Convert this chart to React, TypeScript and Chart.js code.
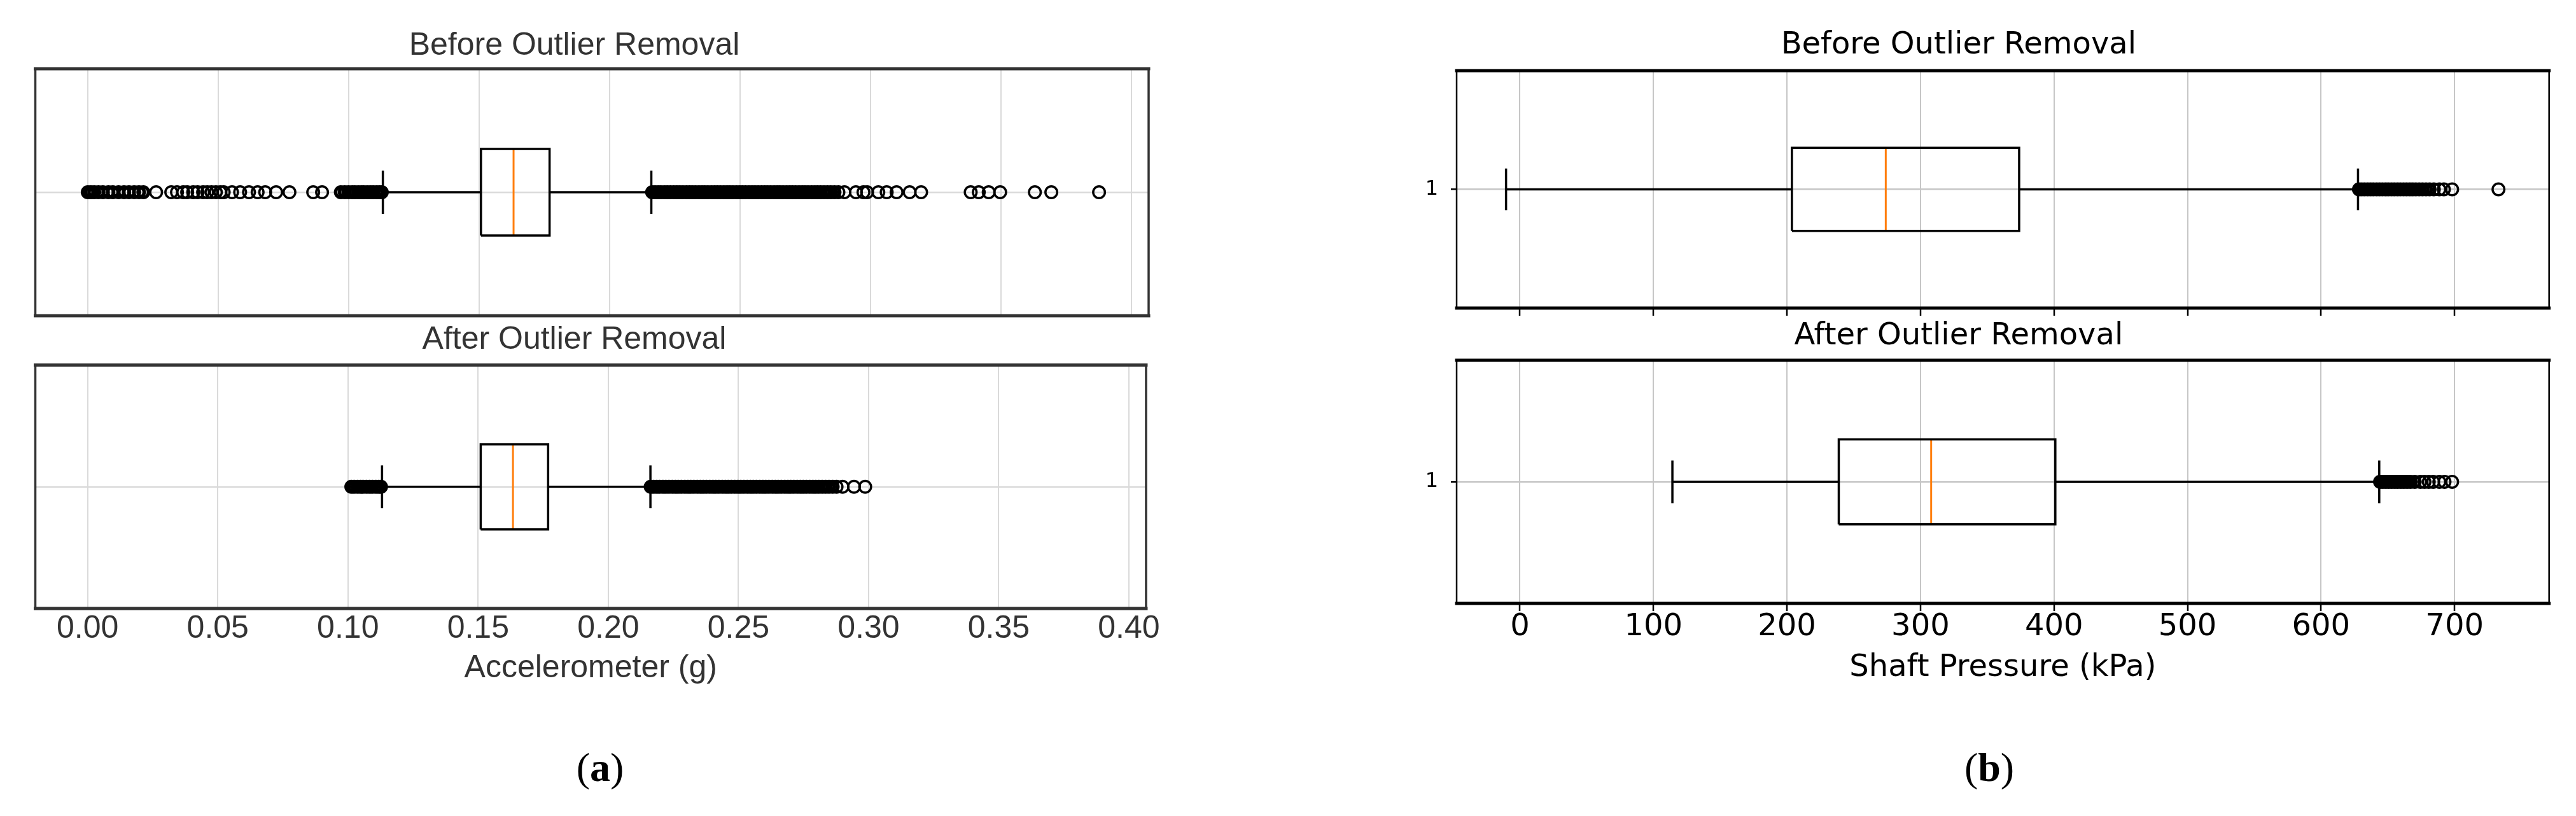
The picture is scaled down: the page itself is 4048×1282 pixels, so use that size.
import React, { useEffect, useRef } from "react";
import { Chart, registerables } from "chart.js";

Chart.register(...registerables);

// ------------------------------------------------------------------ data
const accTicks = [0, 0.05, 0.1, 0.15, 0.2, 0.25, 0.3, 0.35, 0.4];
const pressureTicks = [0, 100, 200, 300, 400, 500, 600, 700];
const rowTicks = [1];
const accRange = [-0.0201, 0.4066];
const pressureRange = [-47.4, 770.8];

// [lower whisker, Q1, median, Q3, upper whisker]
const accBeforeStats = [0.1131, 0.1507, 0.1632, 0.177, 0.216];
const accAfterStats = [0.1131, 0.151, 0.1634, 0.1769, 0.2162];
const pressureBeforeStats = [-10.4, 203.7, 274.0, 373.9, 627.7];
const pressureAfterStats = [114.2, 238.8, 308.0, 401.0, 643.6];

// outliers: "dense" = heavily overlapping runs, "sparse" = separately visible circles
const accAfterLowDense = [
  0.1013, 0.1024, 0.1037, 0.1049, 0.1058, 0.1071, 0.1083, 0.1094, 0.1107, 0.1118, 0.1127,
];
const accAfterHighDense = [
  0.2163, 0.2174, 0.2186, 0.2197, 0.221, 0.2221, 0.2233, 0.2246, 0.2258, 0.2269, 0.2281,
  0.2294, 0.2306, 0.2317, 0.2329, 0.2342, 0.2354, 0.2365, 0.2377, 0.239, 0.2402, 0.2413,
  0.2425, 0.2438, 0.245, 0.2461, 0.2473, 0.2486, 0.2498, 0.2509, 0.2521, 0.2534, 0.2546,
  0.2557, 0.2569, 0.2582, 0.2594, 0.2605, 0.2617, 0.263, 0.2642, 0.2653, 0.2665, 0.2678,
  0.269, 0.2701, 0.2713, 0.2726, 0.2738, 0.2749, 0.2761, 0.2774, 0.2786, 0.2797, 0.2809,
  0.2822, 0.2835, 0.2848, 0.2862,
];
const accAfterHighSparse = [0.2877, 0.29, 0.2944, 0.2987];
const accBeforeLowDense = [
  0.0, 0.0012, 0.0025, 0.0041, 0.0058, 0.0079, 0.0096, 0.0118, 0.0139, 0.0158, 0.0178,
  0.0196, 0.0213, 0.097, 0.0985, 0.0999,
];
const accBeforeLowSparse = [
  0.0262, 0.032, 0.0342, 0.0366, 0.0381, 0.0404, 0.0421, 0.0442, 0.0458, 0.0474, 0.0491,
  0.0508, 0.0521, 0.0553, 0.0584, 0.0618, 0.0651, 0.068, 0.0722, 0.0773, 0.0864, 0.0898,
];
const accBeforeHighSparse = [
  0.2973, 0.303, 0.3062, 0.31, 0.315, 0.3194, 0.3384, 0.3415, 0.3453, 0.3497, 0.363,
  0.3693, 0.3876,
];
const pressureBeforeHighDense = [
  628.4, 630.5, 632.6, 634.9, 637.1, 639.2, 641.6, 643.8, 646.0, 648.3, 650.4, 652.7,
  654.9, 657.2, 659.4, 661.8, 664.1, 666.5, 668.7, 671.0, 673.5, 676.0, 678.6, 681.3,
];
const pressureBeforeHighSparse = [684.5, 688.6, 692.0, 698.2, 732.9];
const pressureAfterHighDense = [
  644.2, 646.3, 648.5, 650.7, 652.9, 655.2, 657.4, 659.8, 662.1, 664.5, 667.0, 670.2,
];
const pressureAfterHighSparse = [674.4, 677.5, 680.7, 684.0, 688.6, 692.5, 698.2];

const accBeforeDense = [...accBeforeLowDense, ...accAfterLowDense, ...accAfterHighDense];
const accBeforeSparse = [...accBeforeLowSparse, ...accAfterHighSparse, ...accBeforeHighSparse];
const accAfterDense = [...accAfterLowDense, ...accAfterHighDense];
const accAfterSparse = [...accAfterHighSparse];

// ------------------------------------------------------------------ styles
const ROW = 1;
const BOX_HALF = 0.175;
const CAP_HALF = 0.0875;
const MEDIAN_COLOR = "#ff7f0e";
const LINE_W = 3.5;

const framePlugin = {
  id: "frame",
  afterDraw(chart: any, _args: any, opts: any) {
    const { ctx, chartArea: a } = chart;
    ctx.save();
    ctx.strokeStyle = opts.color;
    ctx.lineCap = "square";
    ctx.lineWidth = opts.hWidth;
    ctx.beginPath();
    ctx.moveTo(a.left, a.top);
    ctx.lineTo(a.right, a.top);
    ctx.moveTo(a.left, a.bottom);
    ctx.lineTo(a.right, a.bottom);
    ctx.stroke();
    ctx.lineWidth = opts.vWidth;
    ctx.beginPath();
    ctx.moveTo(a.left, a.top);
    ctx.lineTo(a.left, a.bottom);
    ctx.moveTo(a.right, a.top);
    ctx.lineTo(a.right, a.bottom);
    ctx.stroke();
    ctx.restore();
  },
};

type Spec = {
  left: number;
  top: number;
  width: number;
  height: number;
  title: string;
  stats: number[];
  dense: number[];
  sparse: number[];
  range: number[];
  xTicks: number[];
  fmt: (v: number) => string;
  showXLabels: boolean;
  xTickMarks: boolean;
  xTitle: string;
  showYLabel: boolean;
  family: string;
  textColor: string;
  gridColor: string;
  frameColor: string;
  frameH: number;
  frameV: number;
  titleSize: number;
  titleLH: number;
  titlePadTop: number;
  titlePadBottom: number;
  tickSize: number;
  tickPad: number;
  xAxisHeight: number;
  xTitleSize: number;
  xTitlePadBottom: number;
  yAxisWidth: number;
  pad: { left: number; top: number; right: number; bottom: number };
};

function lineDs(points: { x: number; y: number }[], color: string, width: number) {
  return {
    data: points,
    showLine: true,
    borderColor: color,
    backgroundColor: color,
    borderWidth: width,
    pointRadius: 0,
    pointHoverRadius: 0,
    fill: false,
    tension: 0,
    borderJoinStyle: "miter",
    borderCapStyle: "butt",
  };
}

function outlierDs(values: number[], radius: number, width: number) {
  return {
    data: values.map((v) => ({ x: v, y: ROW })),
    showLine: false,
    pointStyle: "circle",
    pointRadius: radius,
    pointHoverRadius: radius,
    pointBorderWidth: width,
    pointBorderColor: "#000",
    pointBackgroundColor: "rgba(0,0,0,0)",
    borderColor: "#000",
    backgroundColor: "rgba(0,0,0,0)",
  };
}

function makeConfig(s: Spec): any {
  const [wLo, q1, med, q3, wHi] = s.stats;
  const datasets: any[] = [
    lineDs([{ x: wLo, y: ROW }, { x: q1, y: ROW }], "#000", LINE_W),
    lineDs([{ x: q3, y: ROW }, { x: wHi, y: ROW }], "#000", LINE_W),
    lineDs([{ x: wLo, y: ROW - CAP_HALF }, { x: wLo, y: ROW + CAP_HALF }], "#000", LINE_W),
    lineDs([{ x: wHi, y: ROW - CAP_HALF }, { x: wHi, y: ROW + CAP_HALF }], "#000", LINE_W),
    lineDs(
      [
        { x: q1, y: ROW - BOX_HALF },
        { x: q3, y: ROW - BOX_HALF },
        { x: q3, y: ROW + BOX_HALF },
        { x: q1, y: ROW + BOX_HALF },
        { x: q1, y: ROW - BOX_HALF },
      ],
      "#000",
      LINE_W
    ),
    lineDs([{ x: med, y: ROW - BOX_HALF }, { x: med, y: ROW + BOX_HALF }], MEDIAN_COLOR, 3),
    outlierDs(s.dense, 8.25, 5.5),
    outlierDs(s.sparse, 9.25, 3.5),
  ];
  return {
    type: "scatter",
    data: { datasets },
    plugins: [framePlugin],
    options: {
      animation: false,
      responsive: false,
      devicePixelRatio: 1,
      events: [],
      layout: { padding: s.pad },
      plugins: {
        legend: { display: false },
        tooltip: { enabled: false },
        title: {
          display: true,
          text: s.title,
          color: s.textColor,
          font: { family: s.family, size: s.titleSize, weight: "normal", lineHeight: s.titleLH },
          padding: { top: s.titlePadTop, bottom: s.titlePadBottom },
        },
        frame: { color: s.frameColor, hWidth: s.frameH, vWidth: s.frameV },
      },
      scales: {
        x: {
          type: "linear",
          min: s.range[0],
          max: s.range[1],
          afterBuildTicks: (scale: any) => {
            scale.ticks = s.xTicks.map((value) => ({ value }));
          },
          afterFit: (scale: any) => {
            scale.height = s.xAxisHeight;
          },
          border: { display: false },
          grid: {
            color: s.gridColor,
            lineWidth: 2,
            drawTicks: s.xTickMarks,
            tickLength: 12,
            tickColor: "#000",
            tickWidth: 2.5,
          },
          ticks: {
            display: s.showXLabels,
            autoSkip: false,
            maxRotation: 0,
            minRotation: 0,
            padding: s.tickPad,
            color: s.textColor,
            font: { family: s.family, size: s.tickSize, lineHeight: 1 },
            callback: (v: any) => s.fmt(Number(v)),
          },
          title: {
            display: s.xTitle !== "",
            text: s.xTitle,
            color: s.textColor,
            font: { family: s.family, size: s.xTitleSize, lineHeight: 1.2 },
            padding: { top: 0, bottom: s.xTitlePadBottom },
          },
        },
        y: {
          type: "linear",
          min: 0.5,
          max: 1.5,
          afterBuildTicks: (scale: any) => {
            scale.ticks = rowTicks.map((value) => ({ value }));
          },
          afterFit: (scale: any) => {
            scale.width = s.yAxisWidth;
          },
          border: { display: false },
          grid: {
            color: s.gridColor,
            lineWidth: 2.5,
            drawTicks: s.showYLabel,
            tickLength: 9,
            tickColor: "#000",
            tickWidth: 2.5,
          },
          ticks: {
            display: s.showYLabel,
            padding: 20,
            color: "#000",
            font: { family: "DejaVu Sans", size: 32, lineHeight: 1 },
            callback: (v: any) => String(v),
          },
        },
      },
    },
  };
}

const SANS_A = "'Liberation Sans', Arial, sans-serif";
const SANS_B = "'DejaVu Sans', sans-serif";

const specs: Spec[] = [
  {
    left: 0, top: 0, width: 1830, height: 520,
    title: "Before Outlier Removal",
    stats: accBeforeStats, dense: accBeforeDense, sparse: accBeforeSparse,
    range: accRange, xTicks: accTicks, fmt: (v) => v.toFixed(2),
    showXLabels: false, xTickMarks: false, xTitle: "", showYLabel: false,
    family: SANS_A, textColor: "#333333", gridColor: "#dadada", frameColor: "#333333",
    frameH: 5, frameV: 3.5,
    titleSize: 50, titleLH: 1.2, titlePadTop: 42, titlePadBottom: 6,
    tickSize: 50, tickPad: 7, xAxisHeight: 0, xTitleSize: 50, xTitlePadBottom: 0,
    yAxisWidth: 55.5, pad: { left: 0, top: 0, right: 25, bottom: 24 },
  },
  {
    left: 0, top: 490, width: 1830, height: 610,
    title: "After Outlier Removal",
    stats: accAfterStats, dense: accAfterDense, sparse: accAfterSparse,
    range: accRange, xTicks: accTicks, fmt: (v) => v.toFixed(2),
    showXLabels: true, xTickMarks: false, xTitle: "Accelerometer (g)", showYLabel: false,
    family: SANS_A, textColor: "#333333", gridColor: "#dadada", frameColor: "#333333",
    frameH: 5, frameV: 3.5,
    titleSize: 50, titleLH: 1.2, titlePadTop: 14, titlePadBottom: 9.6,
    tickSize: 50, tickPad: 7, xAxisHeight: 130, xTitleSize: 50, xTitlePadBottom: 6,
    yAxisWidth: 55.5, pad: { left: 0, top: 0, right: 25, bottom: 14 },
  },
  {
    left: 2150, top: 0, width: 1880, height: 520,
    title: "Before Outlier Removal",
    stats: pressureBeforeStats, dense: pressureBeforeHighDense, sparse: pressureBeforeHighSparse,
    range: pressureRange, xTicks: pressureTicks, fmt: (v) => String(v),
    showXLabels: false, xTickMarks: true, xTitle: "", showYLabel: true,
    family: SANS_B, textColor: "#000000", gridColor: "#c6c6c6", frameColor: "#000000",
    frameH: 5, frameV: 2.5,
    titleSize: 48, titleLH: 1.2, titlePadTop: 43.2, titlePadBottom: 10.2,
    tickSize: 48, tickPad: 2, xAxisHeight: 0, xTitleSize: 48, xTitlePadBottom: 0,
    yAxisWidth: 139, pad: { left: 0, top: 0, right: 24.3, bottom: 26 },
  },
  {
    left: 2150, top: 490, width: 1880, height: 610,
    title: "After Outlier Removal",
    stats: pressureAfterStats, dense: pressureAfterHighDense, sparse: pressureAfterHighSparse,
    range: pressureRange, xTicks: pressureTicks, fmt: (v) => String(v),
    showXLabels: true, xTickMarks: true, xTitle: "Shaft Pressure (kPa)", showYLabel: true,
    family: SANS_B, textColor: "#000000", gridColor: "#c6c6c6", frameColor: "#000000",
    frameH: 5, frameV: 2.5,
    titleSize: 48, titleLH: 1.2, titlePadTop: 10.2, titlePadBottom: 8.2,
    tickSize: 48, tickPad: 2, xAxisHeight: 136, xTitleSize: 48, xTitlePadBottom: 5.2,
    yAxisWidth: 139, pad: { left: 0, top: 0, right: 24.3, bottom: 16 },
  },
];

const captionStyle: React.CSSProperties = {
  position: "absolute",
  width: 200,
  textAlign: "center",
  fontFamily: "'Liberation Serif', 'Times New Roman', serif",
  fontSize: 64,
  lineHeight: "64px",
  color: "#000",
};

export default function App() {
  const refs = useRef<(HTMLCanvasElement | null)[]>([]);

  useEffect(() => {
    const charts = specs.map((s, i) => new Chart(refs.current[i] as HTMLCanvasElement, makeConfig(s)));
    return () => charts.forEach((c) => c.destroy());
  }, []);

  return (
    <div
      style={{
        position: "fixed",
        left: 0,
        top: 0,
        width: 4048,
        height: 1282,
        background: "#ffffff",
        overflow: "hidden",
      }}
    >
      {specs.map((s, i) => (
        <canvas
          key={i}
          ref={(el) => {
            refs.current[i] = el;
          }}
          width={s.width}
          height={s.height}
          style={{ position: "absolute", left: s.left, top: s.top, width: s.width, height: s.height }}
        />
      ))}
      <div style={{ ...captionStyle, left: 943 - 100, top: 1208 - 34 }}>
        (<b>a</b>)
      </div>
      <div style={{ ...captionStyle, left: 3126 - 100, top: 1208 - 34 }}>
        (<b>b</b>)
      </div>
    </div>
  );
}
